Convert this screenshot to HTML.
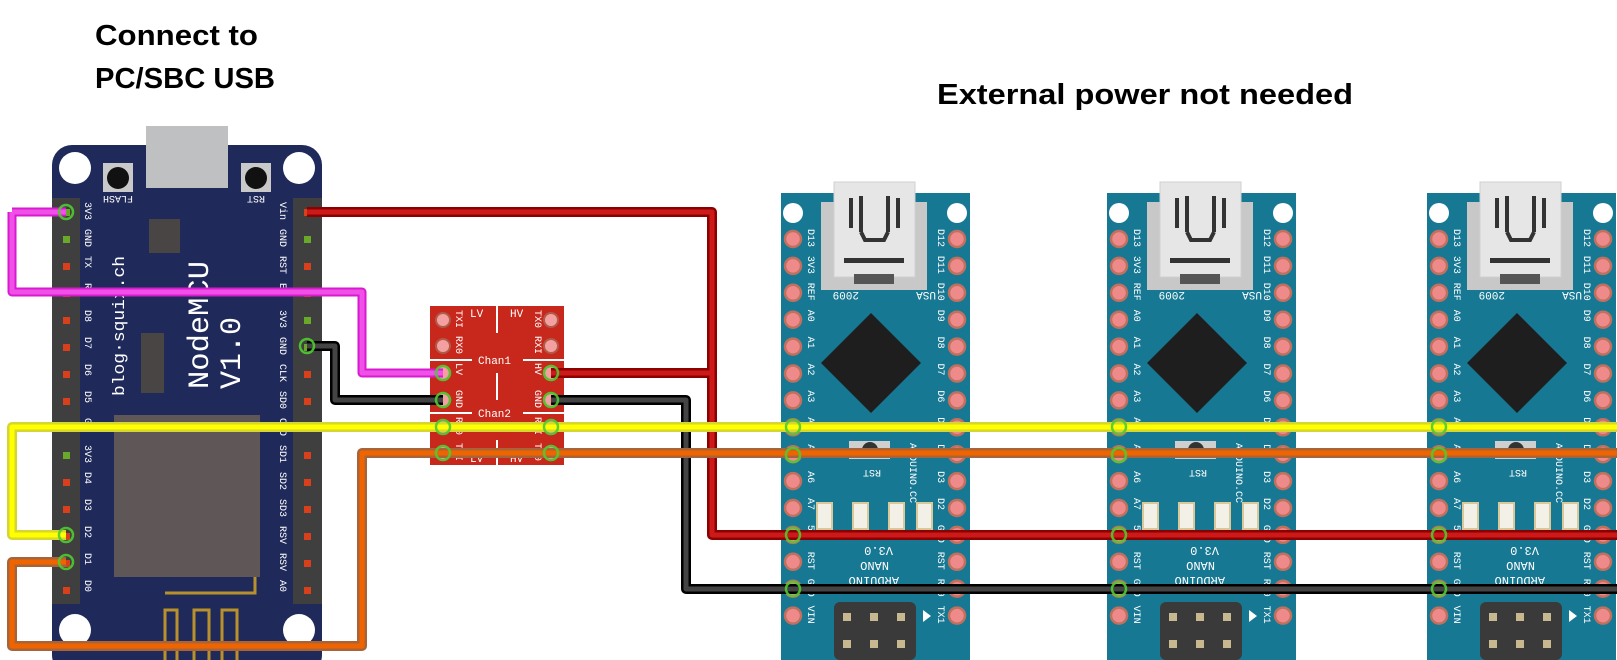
<!DOCTYPE html>
<html><head><meta charset="utf-8"><style>
html,body{margin:0;padding:0;background:#fff;width:1617px;height:660px;overflow:hidden}
svg text{font-family:"Liberation Mono",monospace}
.h{font-family:"Liberation Sans",sans-serif;font-weight:bold;font-size:29px;fill:#000}
</style></head><body>
<svg id="s" width="1617" height="660" viewBox="0 0 1617 660" xmlns="http://www.w3.org/2000/svg">
<text class="h" x="95" y="45" textLength="163" lengthAdjust="spacingAndGlyphs" style="font-family:'Liberation Sans',sans-serif">Connect to</text>
<text class="h" x="95" y="88" textLength="180" lengthAdjust="spacingAndGlyphs" style="font-family:'Liberation Sans',sans-serif">PC/SBC USB</text>
<text class="h" x="937" y="104" textLength="416" lengthAdjust="spacingAndGlyphs" style="font-family:'Liberation Sans',sans-serif">External power not needed</text>

<!-- NodeMCU -->
<rect x="52" y="145" width="270" height="530" rx="20" fill="#1f2a5a"/>
<rect x="146" y="126" width="82" height="62" fill="#bfc0c2"/>
<circle cx="75" cy="168" r="16" fill="#fff"/><circle cx="299" cy="168" r="16" fill="#fff"/>
<circle cx="75" cy="630" r="16" fill="#fff"/><circle cx="299" cy="630" r="16" fill="#fff"/>
<rect x="103" y="163" width="30" height="29" fill="#c9c9c9"/><circle cx="118" cy="178" r="11" fill="#111"/>
<rect x="241" y="163" width="30" height="29" fill="#c9c9c9"/><circle cx="256" cy="178" r="11" fill="#111"/>
<text x="118" y="204" transform="rotate(180 118 200)" font-size="10" fill="#fff" text-anchor="middle">FLASH</text>
<text x="256" y="204" transform="rotate(180 256 200)" font-size="10" fill="#fff" text-anchor="middle">RST</text>
<rect x="149" y="219" width="31" height="34" fill="#4a4545"/>
<rect x="141" y="333" width="23" height="60" fill="#4a4545"/>
<rect x="114" y="415" width="146" height="162" fill="#5f5757"/>
<text transform="translate(208,389) rotate(-90)" font-size="30" fill="#fff" textLength="128" lengthAdjust="spacingAndGlyphs">NodeMCU</text>
<text transform="translate(240,389) rotate(-90)" font-size="30" fill="#fff" textLength="72" lengthAdjust="spacingAndGlyphs">V1.0</text>
<text transform="translate(124,396) rotate(-90)" font-size="17" fill="#fff" textLength="140" lengthAdjust="spacingAndGlyphs">blog·squix.ch</text>
<g stroke="#b8902c" stroke-width="3" fill="none">
<path d="M165 593 H255 V577"/>
<path d="M165 660 V610 H177 V660 M194 660 V610 H209 V660 M222 660 V610 H237 V660"/>
</g>
<g id="hdr"></g>

<!-- level shifter -->
<rect x="430" y="306" width="134" height="159" fill="#c8281c"/>
<g stroke="#fff" stroke-width="2">
<line x1="497" y1="306" x2="497" y2="333"/><line x1="430" y1="360" x2="472" y2="360"/><line x1="523" y1="360" x2="564" y2="360"/>
<line x1="497" y1="373" x2="497" y2="400"/><line x1="430" y1="413" x2="472" y2="413"/><line x1="523" y1="413" x2="564" y2="413"/>
<line x1="497" y1="440" x2="497" y2="465"/>
</g>
<g font-size="11" fill="#fff">
<text x="478" y="364">Chan1</text><text x="478" y="417">Chan2</text>
<text x="470" y="317">LV</text><text x="510" y="317">HV</text>
<text x="470" y="462">LV</text><text x="510" y="462">HV</text>
</g>
<g id="ls"></g>

<g id="nanos"></g>

<!-- wires -->
<g fill="none" stroke-linejoin="round">
<g stroke="#d81ad0" stroke-width="9"><path d="M12 212 H66 M12 212 V292 H362 V373 H443"/></g>
<g stroke="#f050e8" stroke-width="5"><path d="M12 212 H66 M12 212 V292 H362 V373 H443"/></g>
<g stroke="#8c0000" stroke-width="10"><path d="M307 212 H712 V535 H1617 M551 373 H712"/></g>
<g stroke="#cc1a1a" stroke-width="5"><path d="M307 212 H712 V535 H1617 M551 373 H712"/></g>
<g stroke="#000" stroke-width="10"><path d="M307 346 H335 V400 H443 M551 400 H686 V589 H1617"/></g>
<g stroke="#444" stroke-width="5"><path d="M307 346 H335 V400 H443 M551 400 H686 V589 H1617"/></g>
<g stroke="#d6d630" stroke-width="10"><path d="M66 535 H12 V427 H1617"/></g>
<g stroke="#ffff00" stroke-width="5"><path d="M66 535 H12 V427 H1617"/></g>
<g stroke="#a86438" stroke-width="10"><path d="M66 562 H12 V646 H362 V453 H1617"/></g>
<g stroke="#f06400" stroke-width="5"><path d="M66 562 H12 V646 H362 V453 H1617"/></g>
</g>
<g id="dots"></g>
</svg>
<script>
function add(id,html){document.getElementById(id).insertAdjacentHTML('beforeend',html);}
var L=['3V3','GND','TX','RX','D8','D7','D6','D5','G','3V3','D4','D3','D2','D1','D0'];
var R=['Vin','GND','RST','EN','3V3','GND','CLK','SD0','CMD','SD1','SD2','SD3','RSV','RSV','A0'];
var h='<rect x="52" y="198" width="28" height="406" fill="#3f3f3f"/><rect x="293" y="198" width="29" height="406" fill="#3f3f3f"/>';
for(var i=0;i<15;i++){var y=212+i*27;
 var gl=(L[i]=='GND'||L[i]=='3V3'), gr=(R[i]=='GND'||R[i]=='3V3');
 h+='<rect x="63" y="'+(y-3)+'" width="7" height="7" fill="'+(gl?'#6aa82a':'#d8401c')+'"/>';
 h+='<rect x="304" y="'+(y-3)+'" width="7" height="7" fill="'+(gr?'#6aa82a':'#d8401c')+'"/>';
 h+='<text font-size="10" fill="#fff" transform="translate(85,'+(y-10)+') rotate(90)">'+L[i]+'</text>';
 h+='<text font-size="10" fill="#fff" transform="translate(280,'+(y-10)+') rotate(90)">'+R[i]+'</text>';}
add('hdr',h);
var LS=[['TXI','TX0'],['RX0','RXI'],['LV','HV'],['GND','GND'],['RX0','RXI'],['TXI','TX0']];
var s='';
for(var i=0;i<6;i++){var y=[320,346,373,400,427,453][i];
 s+='<circle cx="443" cy="'+y+'" r="7" fill="#f5a0a0" stroke="#b05a4a" stroke-width="2"/>';
 s+='<circle cx="551" cy="'+y+'" r="7" fill="#f5a0a0" stroke="#b05a4a" stroke-width="2"/>';
 s+='<text font-size="10" fill="#fff" transform="translate(456,'+(y-10)+') rotate(90)">'+LS[i][0]+'</text>';
 s+='<text font-size="10" fill="#fff" transform="translate(535,'+(y-10)+') rotate(90)">'+LS[i][1]+'</text>';}
add('ls',s);
var NL=['D13','3V3','REF','A0','A1','A2','A3','A4','A5','A6','A7','5V','RST','GND','VIN'];
var NR=['D12','D11','D10','D9','D8','D7','D6','D5','D4','D3','D2','GND','RST','RX0','TX1'];
var n='';
[781,1107,1427].forEach(function(x){
 n+='<g transform="translate('+x+',0)">';
 n+='<rect x="0" y="193" width="189" height="467" fill="#177893"/>';
 n+='<rect x="40" y="202" width="106" height="88" fill="#c8c8c8"/>';
 n+='<rect x="53" y="182" width="81" height="95" fill="#e6e6e6" stroke="#d0d0d0"/>';
 n+='<path d="M70 198 V228 M80 196 V232 M107 196 V232 M117 198 V228" stroke="#333" stroke-width="4"/>';
 n+='<path d="M80 232 L84 240 H103 L107 232" stroke="#333" stroke-width="4" fill="none"/>';
 n+='<rect x="63" y="258" width="60" height="5" fill="#333"/>';
 n+='<rect x="73" y="274" width="40" height="10" fill="#555"/>';
 n+='<circle cx="12" cy="213" r="10" fill="#fff"/><circle cx="176" cy="213" r="10" fill="#fff"/>';
 n+='<text font-size="11" fill="#fff" transform="rotate(180 63 296)" x="48" y="300">2009</text>';
 n+='<text font-size="11" fill="#fff" transform="rotate(180 145 296)" x="135" y="300">USA</text>';
 n+='<polygon points="90,313 140,363 90,413 40,363" fill="#1e1e1e"/>';
 n+='<rect x="68" y="441" width="41" height="18" fill="#cfcfcf"/><circle cx="89" cy="450" r="8" fill="#333"/>';
 n+='<text font-size="10" fill="#fff" transform="rotate(180 89 474)" x="78" y="478">RST</text>';
 n+='<text font-size="10" fill="#fff" transform="translate(129,443) rotate(90)">ARDUINO.CC</text>';
 [36,72,108,136].forEach(function(lx){n+='<rect x="'+lx+'" y="503" width="15" height="26" fill="#f3f0e8" stroke="#d8c89a" stroke-width="2"/>';});
 n+='<text font-size="12" fill="#fff" transform="rotate(180 90 551)" x="68" y="555">V3.0</text>';
 n+='<text font-size="12" fill="#fff" transform="rotate(180 90 566)" x="72" y="570">NANO</text>';
 n+='<text font-size="12" fill="#fff" transform="rotate(180 90 581)" x="62" y="585">ARDUINO</text>';
 n+='<rect x="53" y="602" width="82" height="58" rx="6" fill="#3a3a3a"/>';
 [66,93,120].forEach(function(cx){n+='<rect x="'+(cx-4)+'" y="613" width="8" height="8" fill="#c8b890"/><rect x="'+(cx-4)+'" y="640" width="8" height="8" fill="#c8b890"/>';});
 n+='<polygon points="142,610 150,616 142,622" fill="#fff"/>';
 for(var i=0;i<15;i++){var y=239+i*26.9;
  n+='<circle cx="12" cy="'+y+'" r="8" fill="#ee8a8a" stroke="#c0705e" stroke-width="2.5"/>';
  n+='<circle cx="176" cy="'+y+'" r="8" fill="#ee8a8a" stroke="#c0705e" stroke-width="2.5"/>';
  n+='<text font-size="10" fill="#fff" transform="translate(27,'+(y-10)+') rotate(90)">'+NL[i]+'</text>';
  n+='<text font-size="10" fill="#fff" transform="translate(157,'+(y-10)+') rotate(90)">'+NR[i]+'</text>';}
 n+='</g>';});
add('nanos',n);
var d='';
function dot(x,y){d+='<circle cx="'+x+'" cy="'+y+'" r="7" fill="none" stroke="#4ccc30" stroke-width="2.5" opacity="0.9"/>';}
[[66,212],[66,535],[66,562],[307,346],[443,373],[443,400],[443,427],[443,453],[551,373],[551,400],[551,427],[551,453]].forEach(function(p){dot(p[0],p[1]);});
[793,1119,1439].forEach(function(x){dot(x,427);dot(x,455);dot(x,535);dot(x,589);});
add('dots',d);
</script>
</body></html>
